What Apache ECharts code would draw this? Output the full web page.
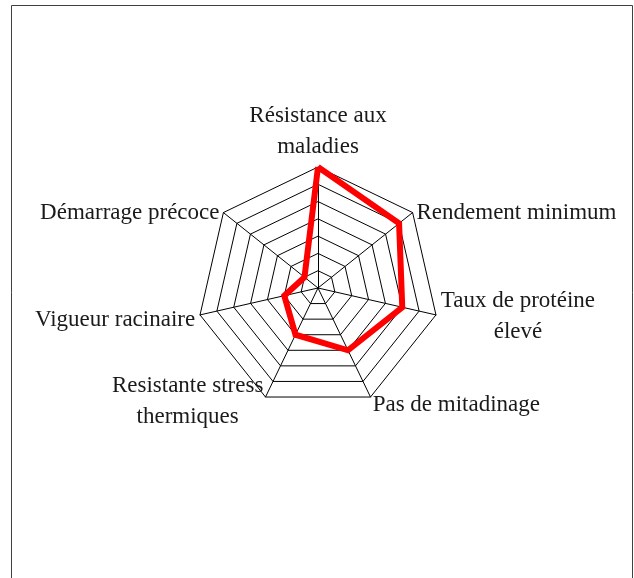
<!DOCTYPE html>
<html>
<head>
<meta charset="utf-8">
<script src="https://cdn.jsdelivr.net/npm/echarts@6/dist/echarts.min.js"></script>
<style>
    html, body { margin: 0; padding: 0; background: #fff; }
    #radarDiv { width: 634px; height: 578px; }
</style>
</head>
<body>
<div id="radarDiv"></div>
<script>
    // critères, dans l'ordre où ECharts les place (sens anti-horaire depuis le haut)
    var criteres = [
        'Résistance aux\nmaladies',
        'Démarrage précoce',
        'Vigueur racinaire',
        'Resistante stress\nthermiques',
        'Pas de mitadinage',
        'Taux de protéine\nélevé',
        'Rendement minimum'
    ];
    var notes = [7, 1, 2, 3, 4, 5, 6];
    var noteMax = 7;

    var police = 'Liberation Serif';

    var radarChart = echarts.init(document.getElementById('radarDiv'));

    var option = {
        animation: false,
        backgroundColor: '#fff',
        graphic: [{
            type: 'rect',
            shape: { x: 11.5, y: 5.5, width: 621, height: 620 },
            style: { fill: 'none', stroke: '#404040', lineWidth: 1 },
            silent: true
        }],
        radar: {
            center: [318, 288],
            radius: 121,
            startAngle: 90,
            splitNumber: 7,
            shape: 'polygon',
            nameGap: 5,
            indicator: criteres.map(function (nom) {
                return { name: nom, min: 0, max: noteMax };
            }),
            axisName: {
                color: '#1a1a1a',
                fontFamily: police,
                fontSize: 23,
                lineHeight: 31,
                // lignes centrées dans le bloc, libellés d'une ligne un peu plus bas
                formatter: function (nom) {
                    var lignes = nom.split('\n');
                    if (lignes.length == 1) {
                        return '{s|' + nom + '}';
                    }
                    return lignes.map(function (l) {
                        return '{c|' + l + '}';
                    }).join('\n');
                },
                rich: {
                    c: {
                        align: 'center',
                        color: '#1a1a1a',
                        fontFamily: police,
                        fontSize: 23,
                        lineHeight: 31
                    },
                    s: {
                        color: '#1a1a1a',
                        fontFamily: police,
                        fontSize: 23,
                        lineHeight: 31,
                        padding: [7, 0, 0, 0]
                    }
                }
            },
            axisLine: { lineStyle: { color: '#000', width: 1 } },
            splitLine: { lineStyle: { color: '#000', width: 1 } },
            splitArea: { show: false },
            axisTick: { show: false },
            axisLabel: { show: false }
        },
        series: [{
            type: 'radar',
            symbol: 'none',
            silent: true,
            lineStyle: { color: '#ff0000', width: 6, join: 'miter' },
            data: [{ value: notes, name: 'notes' }]
        }]
    };

    radarChart.setOption(option);
</script>
</body>
</html>
